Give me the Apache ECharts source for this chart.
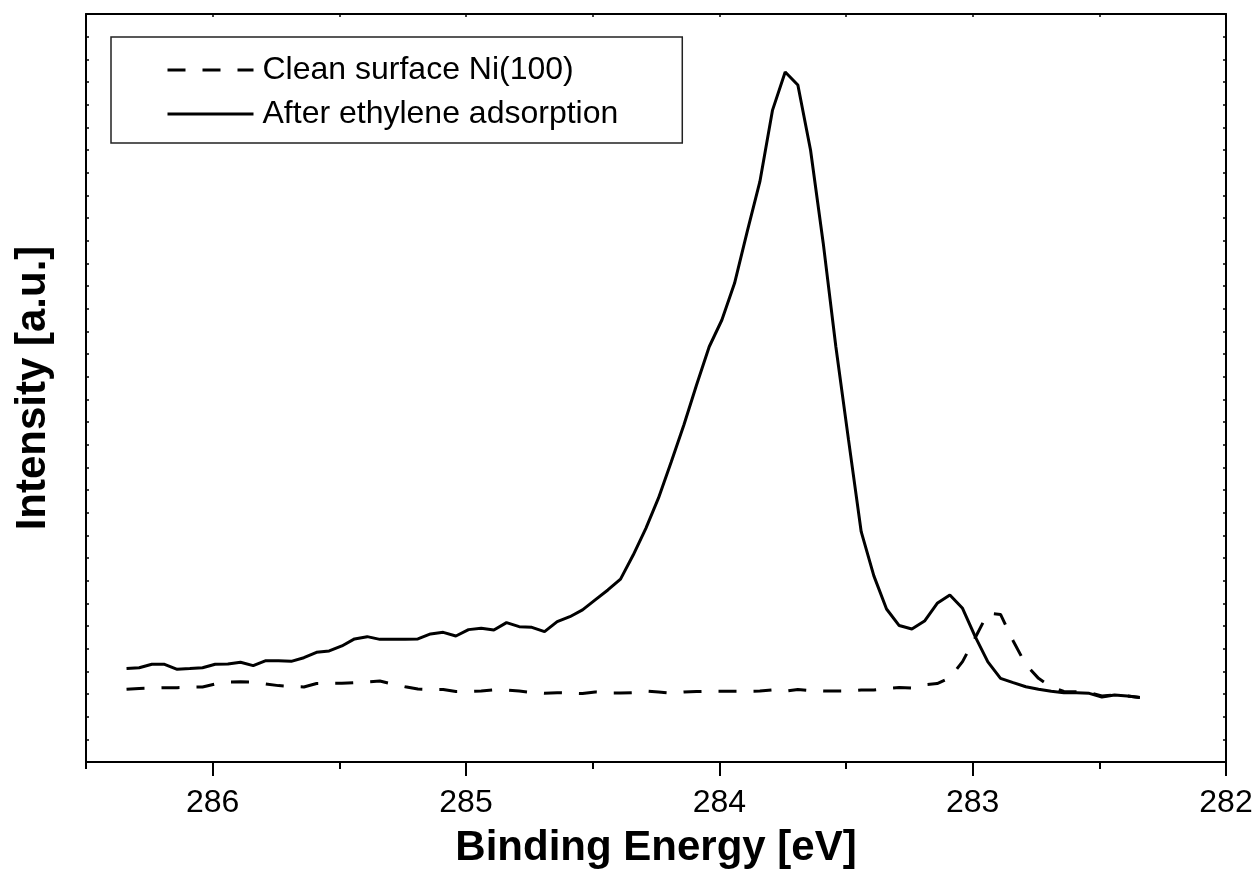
<!DOCTYPE html>
<html>
<head>
<meta charset="utf-8">
<script src="https://cdn.jsdelivr.net/npm/echarts@6/dist/echarts.min.js"></script>
<style>
html,body{margin:0;padding:0;background:#fff;}
#chart{width:1256px;height:883px;}
</style>
</head>
<body>
<div id="chart"></div>
<script>
const energies = [
  286.34, 286.29, 286.24, 286.19, 286.14, 286.09, 286.04, 285.99, 285.94, 285.89,
  285.84, 285.79, 285.74, 285.69, 285.64, 285.59, 285.54, 285.49, 285.44, 285.39,
  285.34, 285.29, 285.24, 285.19, 285.14, 285.09, 285.04, 284.99, 284.94, 284.89,
  284.84, 284.79, 284.74, 284.69, 284.64, 284.59, 284.54, 284.49, 284.44, 284.39,
  284.34, 284.29, 284.24, 284.19, 284.14, 284.09, 284.04, 283.99, 283.94, 283.89,
  283.84, 283.79, 283.74, 283.69, 283.64, 283.59, 283.54, 283.49, 283.44, 283.39,
  283.34, 283.29, 283.24, 283.19, 283.14, 283.09, 283.04, 282.99, 282.94, 282.89,
  282.84, 282.79, 282.74, 282.69, 282.64, 282.59, 282.54, 282.49, 282.44, 282.39,
  282.34
];
const afterEthylene = [
  4.13, 4.16, 4.31, 4.31, 4.09, 4.12, 4.16, 4.31, 4.32, 4.40,
  4.25, 4.47, 4.47, 4.44, 4.60, 4.84, 4.90, 5.12, 5.43, 5.53,
  5.41, 5.41, 5.41, 5.43, 5.65, 5.72, 5.56, 5.84, 5.90, 5.82,
  6.15, 5.97, 5.94, 5.75, 6.19, 6.41, 6.71, 7.15, 7.59, 8.07,
  9.13, 10.31, 11.65, 13.24, 14.87, 16.63, 18.32, 19.50, 21.12, 23.40,
  25.60, 28.76, 30.44, 29.87, 27.00, 22.90, 18.32, 14.21, 10.16, 8.21,
  6.75, 6.02, 5.87, 6.22, 7.00, 7.37, 6.78, 5.53, 4.42, 3.69,
  3.50, 3.32, 3.21, 3.12, 3.06, 3.06, 3.03, 2.87, 2.96, 2.91,
  2.85
];
const cleanSurface = [
  3.21, 3.24, 3.26, 3.28, 3.28, 3.30, 3.31, 3.44, 3.53, 3.54,
  3.53, 3.44, 3.37, 3.33, 3.31, 3.46, 3.47, 3.47, 3.50, 3.53,
  3.57, 3.44, 3.32, 3.22, 3.20, 3.20, 3.11, 3.11, 3.13, 3.18,
  3.18, 3.13, 3.07, 3.03, 3.06, 3.04, 3.02, 3.09, 3.04, 3.04,
  3.06, 3.13, 3.09, 3.04, 3.09, 3.11, 3.12, 3.12, 3.12, 3.12,
  3.13, 3.18, 3.12, 3.20, 3.15, 3.13, 3.13, 3.13, 3.18, 3.18,
  3.24, 3.29, 3.26, 3.41, 3.46, 3.71, 4.43, 5.48, 6.57, 6.51,
  5.34, 4.29, 3.69, 3.32, 3.11, 3.10, 3.07, 2.91, 2.96, 2.91,
  2.85
];
const xTickLabels = [282, 283, 284, 285, 286];
const seriesNames = ['Clean surface Ni(100)', 'After ethylene adsorption'];
const xTitle = 'Binding Energy [eV]';
const yTitle = 'Intensity [a.u.]';

const FONT = '"Liberation Sans", Arial, sans-serif';
const pairs = (ys) => energies.map((e, i) => [e, ys[i]]);

const chart = echarts.init(document.getElementById('chart'), null, {renderer: 'canvas'});
const xCommon = {type: 'value', min: 282, max: 286.5, inverse: true, splitLine: {show: false}};
const yCommon = {type: 'value', min: 0, max: 33, interval: 1, splitLine: {show: false}};
// plot spans 4.5 eV over 1140 px; the helper grid extends half an eV further left
const PLOT_LEFT = 86, PLOT_W = 1140;
const HALF_EV_PX = PLOT_W / 4.5 * 0.5;
chart.setOption({
  animation: false,
  backgroundColor: '#ffffff',
  grid: [
    {left: PLOT_LEFT, right: 30, top: 14, bottom: 121, containLabel: false, outerBoundsMode: 'none'},
    {left: PLOT_LEFT - HALF_EV_PX, right: 30, top: 14, bottom: 121, containLabel: false, outerBoundsMode: 'none'}
  ],
  legend: {
    orient: 'vertical',
    left: 111, top: 37,
    padding: [15, 64, 11, 55],
    borderColor: '#222', borderWidth: 1.5,
    itemWidth: 86, itemHeight: 14, itemGap: 8,
    itemStyle: {opacity: 0},
    lineStyle: {width: 3},
    textStyle: {fontFamily: FONT, fontSize: 32, color: '#000', lineHeight: 36, padding: [0, 0, 0, 4]},
    data: seriesNames.map(n => ({name: n}))
  },
  xAxis: [
    Object.assign({}, xCommon, {
      gridIndex: 0, position: 'bottom', interval: 0.5,
      name: xTitle, nameLocation: 'middle', nameGap: 65,
      nameTextStyle: {fontFamily: FONT, fontSize: 42, fontWeight: 'bold', color: '#000'},
      axisLine: {show: true, onZero: false, lineStyle: {color: '#000', width: 2}},
      axisTick: {show: true, inside: false, length: 7, lineStyle: {color: '#000', width: 2}},
      axisLabel: {show: true, customValues: xTickLabels, margin: 25, fontFamily: FONT, fontSize: 32, color: '#000',
        formatter: (v) => (Math.abs(v - Math.round(v)) < 1e-6 ? String(Math.round(v)) : '')}
    }),
    Object.assign({}, xCommon, {
      gridIndex: 0, position: 'top', interval: 0.5,
      axisLine: {show: true, onZero: false, lineStyle: {color: '#000', width: 2}},
      axisTick: {show: true, inside: true, length: 3, lineStyle: {color: '#000', width: 1.5}},
      axisLabel: {show: false}
    }),
    {
      type: 'value', gridIndex: 1, position: 'bottom', min: 282, max: 287, interval: 1, inverse: true,
      splitLine: {show: false}, axisLine: {show: false, onZero: false},
      axisTick: {show: true, inside: false, length: 14, lineStyle: {color: '#000', width: 2}},
      axisLabel: {show: false}
    }
  ],
  yAxis: [
    Object.assign({}, yCommon, {
      gridIndex: 0, position: 'left',
      name: yTitle, nameLocation: 'middle', nameGap: 32, nameRotate: 90,
      nameTextStyle: {fontFamily: FONT, fontSize: 42, fontWeight: 'bold', color: '#000'},
      axisLine: {show: true, onZero: false, lineStyle: {color: '#000', width: 2}},
      axisTick: {show: true, inside: true, length: 3, lineStyle: {color: '#000', width: 1.5}},
      axisLabel: {show: false}
    }),
    Object.assign({}, yCommon, {
      gridIndex: 0, position: 'right',
      axisLine: {show: true, onZero: false, lineStyle: {color: '#000', width: 2}},
      axisTick: {show: true, inside: true, length: 3, lineStyle: {color: '#000', width: 1.5}},
      axisLabel: {show: false}
    }),
    Object.assign({}, yCommon, {gridIndex: 1, show: false})
  ],
  series: [
    {
      name: seriesNames[0], type: 'line', xAxisIndex: 0, yAxisIndex: 0,
      data: pairs(cleanSurface), symbol: 'none', smooth: false,
      lineStyle: {color: '#000', width: 3, type: [18, 17], cap: 'butt'},
      itemStyle: {color: '#000'}
    },
    {
      name: seriesNames[1], type: 'line', xAxisIndex: 0, yAxisIndex: 0,
      data: pairs(afterEthylene), symbol: 'none', smooth: false,
      lineStyle: {color: '#000', width: 3, type: 'solid'},
      itemStyle: {color: '#000'}
    }
  ]
});
</script>
</body>
</html>
